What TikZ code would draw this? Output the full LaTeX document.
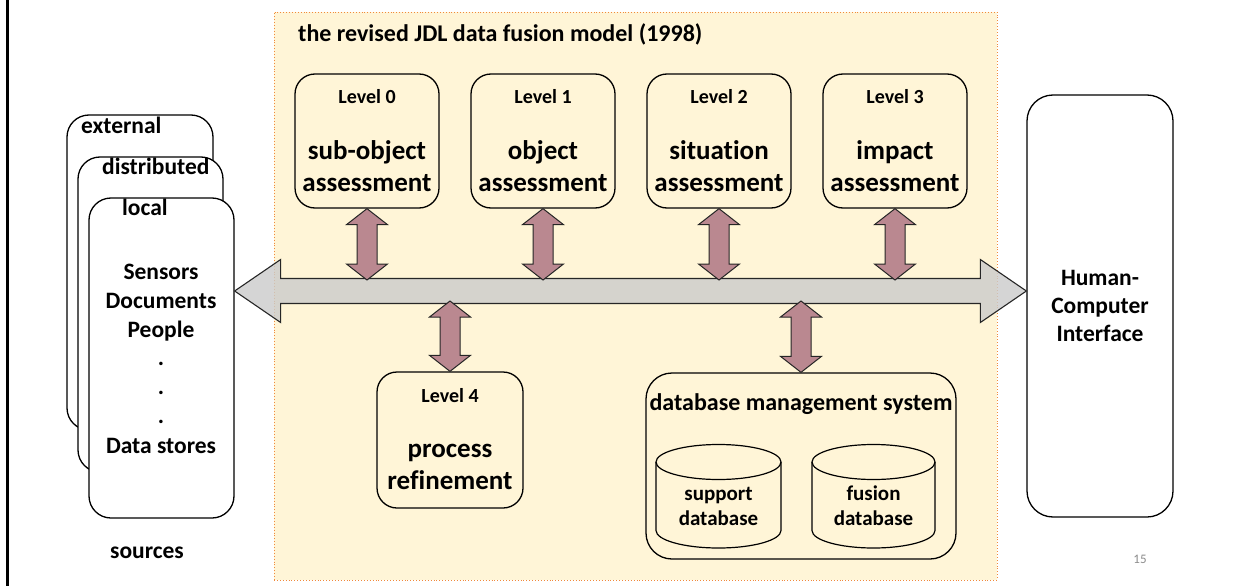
\documentclass[tikz,border=0pt]{standalone}
\usepackage{fontspec}
\setmainfont{Carlito}[Ligatures=CommonOff]
\usetikzlibrary{calc}
\definecolor{panelfill}{HTML}{FFF5D7}
\definecolor{paneledge}{HTML}{F08A3C}
\definecolor{mauve}{HTML}{BA8890}
\definecolor{busgray}{HTML}{CBCBCB}
\definecolor{pagenum}{HTML}{8C8C8C}
\tikzset{
  rbox/.style={draw=black, line width=1.3pt, rounded corners=20pt, inner sep=0pt},
  whitebox/.style={rbox, fill=white},
  txt/.style={inner sep=0pt, anchor=base, font=\bfseries},
  lvl/.style={txt, font=\fontsize{20}{24}\selectfont\bfseries},
  big/.style={txt, font=\fontsize{27}{32}\selectfont\bfseries},
  src/.style={txt, font=\fontsize{23.5}{28}\selectfont\bfseries},
  cyltxt/.style={txt, font=\fontsize{21}{25}\selectfont\bfseries},
  fatarr/.style={draw=black!85, line width=1pt, fill=mauve, line join=miter},
  busarr/.style={draw=black!85, line width=1.1pt, fill=busgray, fill opacity=0.8, line join=miter},
}
\newcommand\fatarrow[2]{%
  \path (#1) coordinate (fa@s) (#2) coordinate (fa@t);
  \draw[fatarr] let \p1=(fa@s), \p2=(fa@t) in
    (\x1,\y1) -- (\x1+20.5pt,\y1-16pt) -- (\x1+10pt,\y1-16pt) -- (\x1+10pt,\y2+16pt)
    -- (\x1+20.5pt,\y2+16pt) -- (\x1,\y2) -- (\x1-20.5pt,\y2+16pt) -- (\x1-10pt,\y2+16pt)
    -- (\x1-10pt,\y1-16pt) -- (\x1-20.5pt,\y1-16pt) -- cycle;}
\begin{document}
\begin{tikzpicture}[x=1pt, y=-1pt]
\useasboundingbox (0,0) rectangle (1237,586);
\fill[white] (0,0) rectangle (1237,586);
% slide edge
\draw[line width=3pt] (7,0) -- (7,586);

% fusion model panel
\node[draw=paneledge, dotted, line width=0.9pt, fill=panelfill, inner sep=0pt,
      minimum width=723pt, minimum height=568pt] (panel) at (635.5,296) {};
\node[txt, font=\fontsize{24}{28}\selectfont\bfseries, anchor=base west] (title) at (298,42)
  {the revised JDL data fusion model (1998)};

% levels 0-3
\node[rbox, minimum width=144pt, minimum height=134pt] (l0) at (367,141) {};
\node[rbox, minimum width=144pt, minimum height=134pt] (l1) at (543,141) {};
\node[rbox, minimum width=144pt, minimum height=134pt] (l2) at (719,141) {};
\node[rbox, minimum width=144pt, minimum height=134pt] (l3) at (895,141) {};
\node[lvl] (l0t) at (367,103) {Level 0};
\node[lvl] (l1t) at (543,103) {Level 1};
\node[lvl] (l2t) at (719,103) {Level 2};
\node[lvl] (l3t) at (895,103) {Level 3};
\node[big] (l0a) at (367,159) {sub-object};
\node[big] (l1a) at (543,159) {object};
\node[big] (l2a) at (719,159) {situation};
\node[big] (l3a) at (895,159) {impact};
\node[big] (l0b) at (367,191) {assessment};
\node[big] (l1b) at (543,191) {assessment};
\node[big] (l2b) at (719,191) {assessment};
\node[big] (l3b) at (895,191) {assessment};

% level 4
\node[rbox, minimum width=146pt, minimum height=136pt] (l4) at (450,440) {};
\node[lvl] (l4t) at (450,402) {Level 4};
\node[big] (l4a) at (450,457) {process};
\node[big] (l4b) at (450,489) {refinement};

% database management system
\node[rbox, rounded corners=26pt, minimum width=310pt, minimum height=186pt] (dbms) at (801,466) {};
\node[txt, font=\fontsize{24}{28}\selectfont\bfseries] (dbmst) at (801,410) {database management system};
\draw[line width=1.2pt] (656,462) -- (656,530.5)
   arc[start angle=180, end angle=360, x radius=62.5pt, y radius=17.5pt] -- (781,462);
\draw[line width=1.2pt] (718.5,462) ellipse [x radius=62.5pt, y radius=17.5pt];
\draw[line width=1.2pt] (812,462) -- (812,530.5)
   arc[start angle=180, end angle=360, x radius=61.5pt, y radius=17.5pt] -- (935,462);
\draw[line width=1.2pt] (873.5,462) ellipse [x radius=61.5pt, y radius=17.5pt];
\node[cyltxt] (sdba) at (718.5,500) {support};
\node[cyltxt] (sdbb) at (718.5,525) {database};
\node[cyltxt] (fdba) at (873.5,500) {fusion};
\node[cyltxt] (fdbb) at (873.5,525) {database};

% sources
\node[whitebox, rounded corners=22pt, minimum width=146pt, minimum height=315pt] (ext) at (140,272.5) {};
\node[whitebox, rounded corners=22pt, minimum width=145pt, minimum height=315pt] (dist) at (150.5,314.5) {};
\node[whitebox, rounded corners=22pt, minimum width=145pt, minimum height=320pt] (local) at (161.5,358) {};
\node[src, anchor=base west] (extt) at (81,133) {external};
\node[src, anchor=base west] (distt) at (102,174) {distributed};
\node[src, anchor=base west] (localt) at (122,215) {local};
\node[src] (srcl1) at (161,279) {Sensors};
\node[src] (srcl2) at (161,308) {Documents};
\node[src] (srcl3) at (161,337) {People};
\node[src] (srcl4) at (161,365) {.};
\node[src] (srcl5) at (161,394) {.};
\node[src] (srcl6) at (161,423) {.};
\node[src] (srcl7) at (161,453) {Data stores};
\node[src] (srct) at (147,558) {sources};

% human-computer interface
\node[whitebox, rounded corners=26pt, minimum width=146pt, minimum height=422pt] (hci) at (1100,306) {};
\node[src] (hci1) at (1100,285) {Human-};
\node[src] (hci2) at (1100,313) {Computer};
\node[src] (hci3) at (1100,341) {Interface};

% page number
\node[txt, font=\fontsize{13}{15}\selectfont, text=pagenum] (pg) at (1140,563) {15};

% common bus
\coordinate (busy) at (0,291);
\coordinate (busL) at (local.east |- busy);
\coordinate (busR) at (hci.west |- busy);
\coordinate (bustop) at (0,280);
\coordinate (busbot) at (0,301);
\draw[busarr] let \p1=(busL), \p2=(busR) in
  (\x1,\y1) -- (\x1+46pt,\y1+31.5pt) -- (\x1+46pt,\y1+12.5pt) -- (\x2-46pt,\y1+12.5pt)
  -- (\x2-46pt,\y1+31.5pt) -- (\x2,\y2) -- (\x2-46pt,\y2-31.5pt) -- (\x2-46pt,\y2-12.5pt)
  -- (\x1+46pt,\y1-12.5pt) -- (\x1+46pt,\y1-31.5pt) -- cycle;

% links between the bus and the blocks
\fatarrow{l0.south}{l0.south |- bustop}
\fatarrow{l1.south}{l1.south |- bustop}
\fatarrow{l2.south}{l2.south |- bustop}
\fatarrow{l3.south}{l3.south |- bustop}
\fatarrow{l4.north |- busbot}{l4.north}
\fatarrow{dbms.north |- busbot}{dbms.north}
\end{tikzpicture}
\end{document}
